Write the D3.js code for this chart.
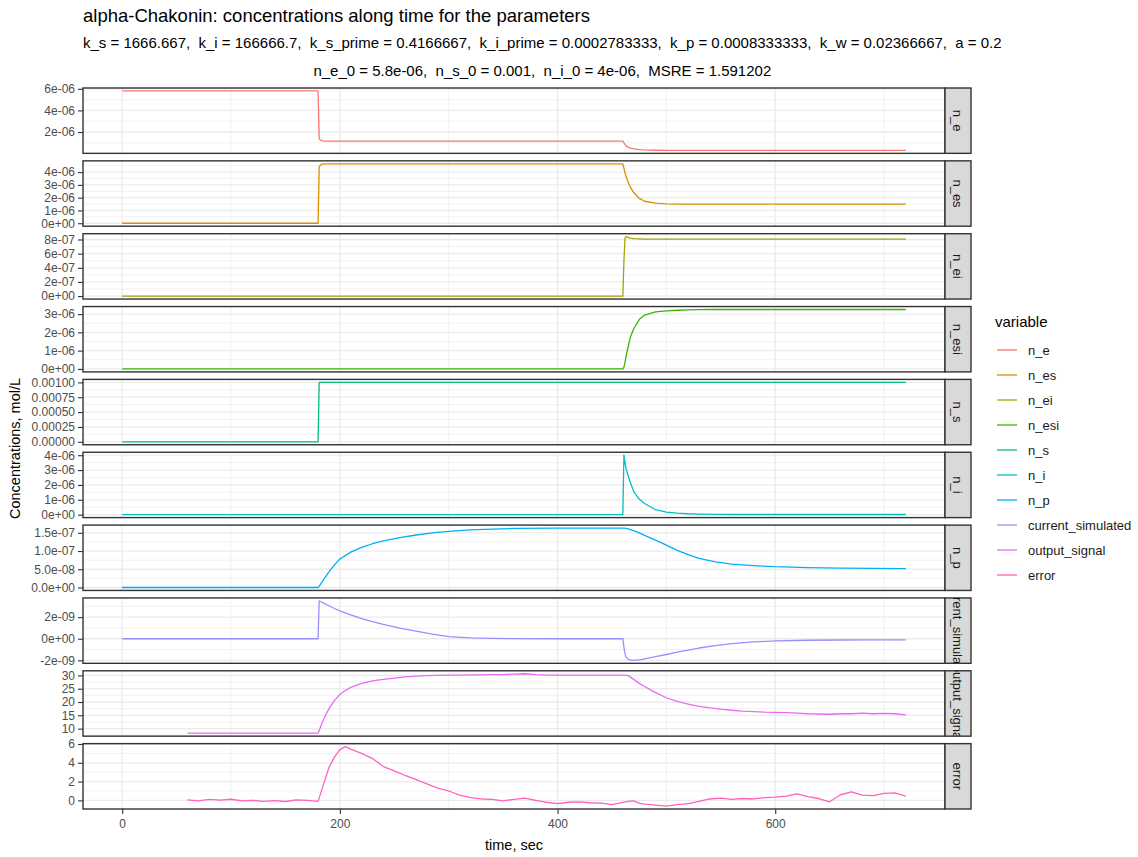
<!DOCTYPE html>
<html>
  <head>
    <meta charset="utf-8">
    <title>alpha-Chakonin concentrations</title>
    <script type="text/javascript" src="https://cdn.jsdelivr.net/npm/d3@7"></script>
    <style type='text/css'>
      body {
        margin: 0;
        background: white;
      }
      text {
        font-family: 'Liberation Sans', Arial, sans-serif;
      }
      .axis path {
        display: none;
      }
      .axis line {
        stroke: #333333;
        stroke-width: 1.1px;
      }
      .axis text {
        fill: #4d4d4d;
        font-size: 12px;
      }
    </style>
  </head>
  <body>
    <script type="text/javascript">
      // facet names and ggplot hue colours
      var variables = ['n_e', 'n_es', 'n_ei', 'n_esi', 'n_s', 'n_i', 'n_p', 'current_simulated', 'output_signal', 'error'];
      var colors = ['#F8766D', '#D89000', '#A3A500', '#39B600', '#00BF7D', '#00BFC4', '#00B0F6', '#9590FF', '#E76BF3', '#FF62BC'];

      // simulated series, sec
      var time = [0, 179, 180, 181, 182, 184, 186, 190, 195, 200,
                  210, 220, 230, 240, 255, 270, 285, 300, 320, 340,
                  360, 400, 440, 460, 461, 462, 463, 465, 467, 470,
                  475, 480, 490, 500, 510, 520, 530, 545, 560, 580,
                  600, 630, 660, 690, 720];

      var n_e = [5.8e-6, 5.8e-6, 5.8e-6, 1.4e-6, 1.25e-6, 1.18e-6, 1.15e-6, 1.15e-6, 1.15e-6, 1.15e-6,
                 1.15e-6, 1.15e-6, 1.15e-6, 1.15e-6, 1.15e-6, 1.15e-6, 1.15e-6, 1.15e-6, 1.15e-6, 1.15e-6,
                 1.15e-6, 1.15e-6, 1.15e-6, 1.15e-6, 1.0e-6, 0.85e-6, 0.72e-6, 0.58e-6, 0.5e-6, 0.43e-6,
                 0.37e-6, 0.34e-6, 0.31e-6, 0.3e-6, 0.3e-6, 0.3e-6, 0.3e-6, 0.3e-6, 0.3e-6, 0.3e-6,
                 0.3e-6, 0.3e-6, 0.3e-6, 0.3e-6, 0.3e-6];

      var n_es = [0, 0, 0, 4.4e-6, 4.55e-6, 4.62e-6, 4.65e-6, 4.65e-6, 4.65e-6, 4.65e-6,
                  4.65e-6, 4.65e-6, 4.65e-6, 4.65e-6, 4.65e-6, 4.65e-6, 4.65e-6, 4.65e-6, 4.65e-6, 4.65e-6,
                  4.65e-6, 4.65e-6, 4.65e-6, 4.65e-6, 4.3e-6, 3.95e-6, 3.65e-6, 3.2e-6, 2.8e-6, 2.4e-6,
                  1.95e-6, 1.72e-6, 1.57e-6, 1.52e-6, 1.5e-6, 1.5e-6, 1.5e-6, 1.5e-6, 1.5e-6, 1.5e-6,
                  1.5e-6, 1.5e-6, 1.5e-6, 1.5e-6, 1.5e-6];

      var n_ei = [0, 0, 0, 0, 0, 0, 0, 0, 0, 0,
                  0, 0, 0, 0, 0, 0, 0, 0, 0, 0,
                  0, 0, 0, 0, 5.0e-7, 8.2e-7, 8.4e-7, 8.3e-7, 8.2e-7, 8.12e-7,
                  8.08e-7, 8.05e-7, 8.05e-7, 8.05e-7, 8.05e-7, 8.05e-7, 8.05e-7, 8.05e-7, 8.05e-7, 8.05e-7,
                  8.05e-7, 8.05e-7, 8.05e-7, 8.05e-7, 8.05e-7];

      var n_esi = [0, 0, 0, 0, 0, 0, 0, 0, 0, 0,
                   0, 0, 0, 0, 0, 0, 0, 0, 0, 0,
                   0, 0, 0, 0, 0.1e-6, 0.35e-6, 0.7e-6, 1.25e-6, 1.75e-6, 2.2e-6,
                   2.7e-6, 2.95e-6, 3.12e-6, 3.18e-6, 3.21e-6, 3.23e-6, 3.24e-6, 3.25e-6, 3.25e-6, 3.25e-6,
                   3.25e-6, 3.25e-6, 3.25e-6, 3.25e-6, 3.25e-6];

      var n_s = [0, 0, 0, 0.001, 0.001, 0.001, 0.001, 0.001, 0.001, 0.001,
                 0.001, 0.001, 0.001, 0.001, 0.001, 0.001, 0.001, 0.001, 0.001, 0.001,
                 0.001, 0.001, 0.001, 0.001, 0.001, 0.001, 0.001, 0.001, 0.001, 0.001,
                 0.001, 0.001, 0.001, 0.001, 0.001, 0.001, 0.001, 0.001, 0.001, 0.001,
                 0.001, 0.001, 0.001, 0.001, 0.001];

      var n_i = [0, 0, 0, 0, 0, 0, 0, 0, 0, 0,
                 0, 0, 0, 0, 0, 0, 0, 0, 0, 0,
                 0, 0, 0, 0, 4.0e-6, 3.5e-6, 3.1e-6, 2.6e-6, 2.15e-6, 1.55e-6,
                 1.05e-6, 0.75e-6, 0.33e-6, 0.17e-6, 0.1e-6, 0.06e-6, 0.04e-6, 0.02e-6, 0.01e-6, 0.01e-6,
                 0.01e-6, 0.01e-6, 0.01e-6, 0.01e-6, 0.01e-6];

      var n_p = [0, 0, 0, 0.04e-7, 0.08e-7, 0.17e-7, 0.26e-7, 0.43e-7, 0.62e-7, 0.78e-7,
                 0.97e-7, 1.1e-7, 1.2e-7, 1.28e-7, 1.37e-7, 1.44e-7, 1.5e-7, 1.54e-7, 1.58e-7, 1.6e-7,
                 1.62e-7, 1.63e-7, 1.63e-7, 1.63e-7, 1.63e-7, 1.63e-7, 1.62e-7, 1.61e-7, 1.59e-7, 1.56e-7,
                 1.5e-7, 1.43e-7, 1.3e-7, 1.16e-7, 1.02e-7, 0.9e-7, 0.8e-7, 0.7e-7, 0.64e-7, 0.6e-7,
                 0.57e-7, 0.545e-7, 0.53e-7, 0.525e-7, 0.52e-7];

      var current_simulated = [0, 0, 0, 3.5e-9, 3.45e-9, 3.35e-9, 3.25e-9, 3.05e-9, 2.8e-9, 2.57e-9,
                               2.2e-9, 1.87e-9, 1.58e-9, 1.32e-9, 0.98e-9, 0.7e-9, 0.42e-9, 0.2e-9, 0.07e-9, 0.03e-9,
                               0.01e-9, 0, 0, 0, -0.8e-9, -1.4e-9, -1.7e-9, -1.9e-9, -1.97e-9, -2.0e-9,
                               -1.95e-9, -1.86e-9, -1.66e-9, -1.46e-9, -1.25e-9, -1.05e-9, -0.86e-9, -0.64e-9, -0.46e-9, -0.3e-9,
                               -0.2e-9, -0.14e-9, -0.12e-9, -0.1e-9, -0.1e-9];

      // measured series, sec
      var timeObs = [60, 70, 80, 90, 100, 110, 120, 130, 140, 150,
                     160, 170, 180, 185, 190, 195, 200, 205, 210, 220,
                     230, 240, 250, 260, 270, 280, 290, 300, 310, 320,
                     330, 340, 350, 360, 370, 380, 390, 400, 410, 420,
                     430, 440, 450, 460, 465, 470, 475, 480, 490, 500,
                     510, 520, 530, 540, 550, 560, 570, 580, 590, 600,
                     610, 620, 630, 640, 650, 660, 670, 680, 690, 700,
                     710, 720];

      var output_signal = [8.3, 8.3, 8.3, 8.3, 8.3, 8.3, 8.3, 8.3, 8.3, 8.3,
                           8.3, 8.3, 8.3, 13.5, 17.5, 20.5, 22.8, 24.3, 25.5, 27.0,
                           27.9, 28.5, 29.0, 29.4, 29.7, 29.9, 30.0, 30.1, 30.1, 30.2,
                           30.2, 30.3, 30.3, 30.5, 30.6, 30.3, 30.1, 30.1, 30.1, 30.1,
                           30.1, 30.1, 30.1, 30.1, 29.9, 28.5, 27.0, 25.8, 23.5, 21.6,
                           20.2, 19.2, 18.4, 17.8, 17.3, 16.9, 16.6, 16.4, 16.2, 16.1,
                           16.0, 15.8, 15.6, 15.5, 15.4, 15.6, 15.6, 15.8, 15.6, 15.7,
                           15.6, 15.2];

      var error = [0.05, -0.05, 0.1, 0.02, 0.12, -0.05, 0.0, -0.1, -0.02, -0.12,
                   0.05, 0.0, -0.1, 1.7, 3.5, 4.6, 5.4, 5.72, 5.45, 5.0,
                   4.45, 3.6, 3.15, 2.65, 2.2, 1.75, 1.3, 1.0, 0.55, 0.3,
                   0.15, 0.1, -0.05, 0.1, 0.25, 0.0, -0.2, -0.35, -0.2, -0.15,
                   -0.25, -0.3, -0.45, -0.2, -0.1, -0.05, -0.3, -0.4, -0.5, -0.6,
                   -0.45, -0.35, -0.1, 0.15, 0.25, 0.1, 0.2, 0.15, 0.3, 0.35,
                   0.45, 0.7, 0.4, 0.2, -0.15, 0.6, 0.9, 0.55, 0.5, 0.75,
                   0.8, 0.45];

      // axis ticks and labels
      var xTicks = [0, 200, 400, 600];
      var xTickLabels = ['0', '200', '400', '600'];
      var yTicks = [
        [2e-6, 4e-6, 6e-6],
        [0, 1e-6, 2e-6, 3e-6, 4e-6],
        [0, 2e-7, 4e-7, 6e-7, 8e-7],
        [0, 1e-6, 2e-6, 3e-6],
        [0, 0.00025, 0.0005, 0.00075, 0.001],
        [0, 1e-6, 2e-6, 3e-6, 4e-6],
        [0, 5e-8, 1e-7, 1.5e-7],
        [-2e-9, 0, 2e-9],
        [10, 15, 20, 25, 30],
        [0, 2, 4, 6]
      ];
      var yTickLabels = [
        ['2e-06', '4e-06', '6e-06'],
        ['0e+00', '1e-06', '2e-06', '3e-06', '4e-06'],
        ['0e+00', '2e-07', '4e-07', '6e-07', '8e-07'],
        ['0e+00', '1e-06', '2e-06', '3e-06'],
        ['0.00000', '0.00025', '0.00050', '0.00075', '0.00100'],
        ['0e+00', '1e-06', '2e-06', '3e-06', '4e-06'],
        ['0.0e+00', '5.0e-08', '1.0e-07', '1.5e-07'],
        ['-2e-09', '0e+00', '2e-09'],
        ['10', '15', '20', '25', '30'],
        ['0', '2', '4', '6']
      ];

      var titleText = 'alpha-Chakonin: concentrations along time for the parameters';
      var subLine1 = 'k_s = 1666.667,  k_i = 166666.7,  k_s_prime = 0.4166667,  k_i_prime = 0.0002783333,  k_p = 0.0008333333,  k_w = 0.02366667,  a = 0.2';
      var subLine2 = 'n_e_0 = 5.8e-06,  n_s_0 = 0.001,  n_i_0 = 4e-06,  MSRE = 1.591202';

      var seriesValues = [n_e, n_es, n_ei, n_esi, n_s, n_i, n_p, current_simulated, output_signal, error];
      var seriesTimes = [time, time, time, time, time, time, time, time, timeObs, timeObs];

      var w = 1138;
      var h = 857;
      var plot = {left: 83, right: 945, top: 88, bottom: 809};
      var stripW = 26;
      var gap = 7.5;
      var ph = (plot.bottom - plot.top - gap * (variables.length - 1)) / variables.length;

      function expand(ext) {
        var pad = (ext[1] - ext[0]) * 0.05;
        return [ext[0] - pad, ext[1] + pad];
      }

      function minorOf(ticks, domain) {
        var step = ticks[1] - ticks[0];
        var out = [];
        for (var k = -1; k < ticks.length; k++) {
          var m = ticks[0] + (k + 0.5) * step;
          if (m >= domain[0] && m <= domain[1]) out.push(m);
        }
        return out;
      }

      var svg = d3.select('body')
                  .append('svg')
                  .attr('width', w)
                  .attr('height', h);

      var xScale = d3.scaleLinear()
                     .domain(expand(d3.extent(time.concat(timeObs))))
                     .range([plot.left, plot.right]);

      var defs = svg.append('defs');

      variables.forEach(function(name, i) {
        var y0 = plot.top + i * (ph + gap);
        var vals = seriesValues[i];
        var ts = seriesTimes[i];
        var yDomain = expand(d3.extent(vals));
        var yScale = d3.scaleLinear()
                       .domain(yDomain)
                       .range([y0 + ph, y0]);

        var ticks = yTicks[i].filter(function(d) {return d >= yDomain[0] && d <= yDomain[1];});
        var g = svg.append('g').attr('class', 'panel');

        // minor grid
        g.selectAll('line.xminor')
          .data(minorOf(xTicks, xScale.domain()))
          .enter()
          .append('line')
          .attr('x1', function(d) {return xScale(d);})
          .attr('x2', function(d) {return xScale(d);})
          .attr('y1', y0)
          .attr('y2', y0 + ph)
          .attr('stroke', '#EBEBEB')
          .attr('stroke-width', 0.7);

        g.selectAll('line.yminor')
          .data(minorOf(yTicks[i], yDomain))
          .enter()
          .append('line')
          .attr('x1', plot.left)
          .attr('x2', plot.right)
          .attr('y1', function(d) {return yScale(d);})
          .attr('y2', function(d) {return yScale(d);})
          .attr('stroke', '#EBEBEB')
          .attr('stroke-width', 0.7);

        // major grid
        g.selectAll('line.xmajor')
          .data(xTicks)
          .enter()
          .append('line')
          .attr('x1', function(d) {return xScale(d);})
          .attr('x2', function(d) {return xScale(d);})
          .attr('y1', y0)
          .attr('y2', y0 + ph)
          .attr('stroke', '#EBEBEB')
          .attr('stroke-width', 1.3);

        g.selectAll('line.ymajor')
          .data(ticks)
          .enter()
          .append('line')
          .attr('x1', plot.left)
          .attr('x2', plot.right)
          .attr('y1', function(d) {return yScale(d);})
          .attr('y2', function(d) {return yScale(d);})
          .attr('stroke', '#EBEBEB')
          .attr('stroke-width', 1.3);

        var line = d3.line()
                     .x(function(d, j) {return xScale(ts[j]);})
                     .y(function(d) {return yScale(d);});

        g.append('path')
          .datum(vals)
          .attr('d', line)
          .attr('fill', 'none')
          .attr('stroke', colors[i])
          .attr('stroke-width', 1.3)
          .attr('stroke-linejoin', 'round');

        g.append('rect')
          .attr('x', plot.left)
          .attr('y', y0)
          .attr('width', plot.right - plot.left)
          .attr('height', ph)
          .attr('fill', 'none')
          .attr('stroke', '#333333')
          .attr('stroke-width', 1.4);

        // strip on the right
        defs.append('clipPath')
          .attr('id', 'strip' + i)
          .append('rect')
          .attr('x', plot.right)
          .attr('y', y0)
          .attr('width', stripW)
          .attr('height', ph);

        g.append('rect')
          .attr('x', plot.right)
          .attr('y', y0)
          .attr('width', stripW)
          .attr('height', ph)
          .attr('fill', '#D9D9D9')
          .attr('stroke', '#333333')
          .attr('stroke-width', 1.4);

        g.append('g')
          .attr('clip-path', 'url(#strip' + i + ')')
          .append('text')
          .attr('transform', 'translate(' + (plot.right + stripW / 2) + ',' + (y0 + ph / 2) + ') rotate(90)')
          .attr('text-anchor', 'middle')
          .attr('dy', '0.35em')
          .style('font-size', '13px')
          .style('fill', '#1A1A1A')
          .text(name);

        var yAxis = d3.axisLeft(yScale)
                      .tickValues(ticks)
                      .tickFormat(function(d) {return yTickLabels[i][yTicks[i].indexOf(d)];})
                      .tickSize(5)
                      .tickPadding(3);

        svg.append('g')
          .attr('class', 'axis')
          .attr('transform', 'translate(' + plot.left + ',0)')
          .call(yAxis);
      });

      var xAxis = d3.axisBottom(xScale)
                    .tickValues(xTicks)
                    .tickFormat(function(d, j) {return xTickLabels[j];})
                    .tickSize(5)
                    .tickPadding(5);

      svg.append('g')
        .attr('class', 'axis')
        .attr('transform', 'translate(0,' + plot.bottom + ')')
        .call(xAxis);

      svg.append('text')
        .attr('x', (plot.left + plot.right) / 2)
        .attr('y', 850)
        .attr('text-anchor', 'middle')
        .style('font-size', '14.5px')
        .text('time, sec');

      svg.append('text')
        .attr('transform', 'translate(20,' + ((plot.top + plot.bottom) / 2) + ') rotate(-90)')
        .attr('text-anchor', 'middle')
        .style('font-size', '14.5px')
        .text('Concentrations, mol/L');

      // title and subtitle
      svg.append('text')
        .attr('x', plot.left)
        .attr('y', 22)
        .style('font-size', '18.5px')
        .text(titleText);

      var s1 = svg.append('text')
        .attr('x', plot.left)
        .attr('y', 48)
        .attr('xml:space', 'preserve')
        .style('white-space', 'pre')
        .style('font-size', '15px')
        .text(subLine1);

      var s1w = s1.node().getComputedTextLength();

      svg.append('text')
        .attr('x', plot.left + s1w / 2)
        .attr('y', 76)
        .attr('text-anchor', 'middle')
        .attr('xml:space', 'preserve')
        .style('white-space', 'pre')
        .style('font-size', '15px')
        .text(subLine2);

      // legend
      var legend = svg.append('g')
                      .attr('transform', 'translate(995,0)');

      legend.append('text')
        .attr('x', 0)
        .attr('y', 327)
        .style('font-size', '15px')
        .text('variable');

      var keys = legend.selectAll('g.key')
                       .data(variables)
                       .enter()
                       .append('g')
                       .attr('class', 'key')
                       .attr('transform', function(d, i) {return 'translate(0,' + (350 + i * 25) + ')';});

      keys.append('line')
        .attr('x1', 2)
        .attr('x2', 22)
        .attr('stroke', function(d, i) {return colors[i];})
        .attr('stroke-width', 1.3);

      keys.append('text')
        .attr('x', 33)
        .attr('dy', '0.35em')
        .style('font-size', '13px')
        .style('fill', '#1A1A1A')
        .text(function(d) {return d;});
    </script>
  </body>
</html>
